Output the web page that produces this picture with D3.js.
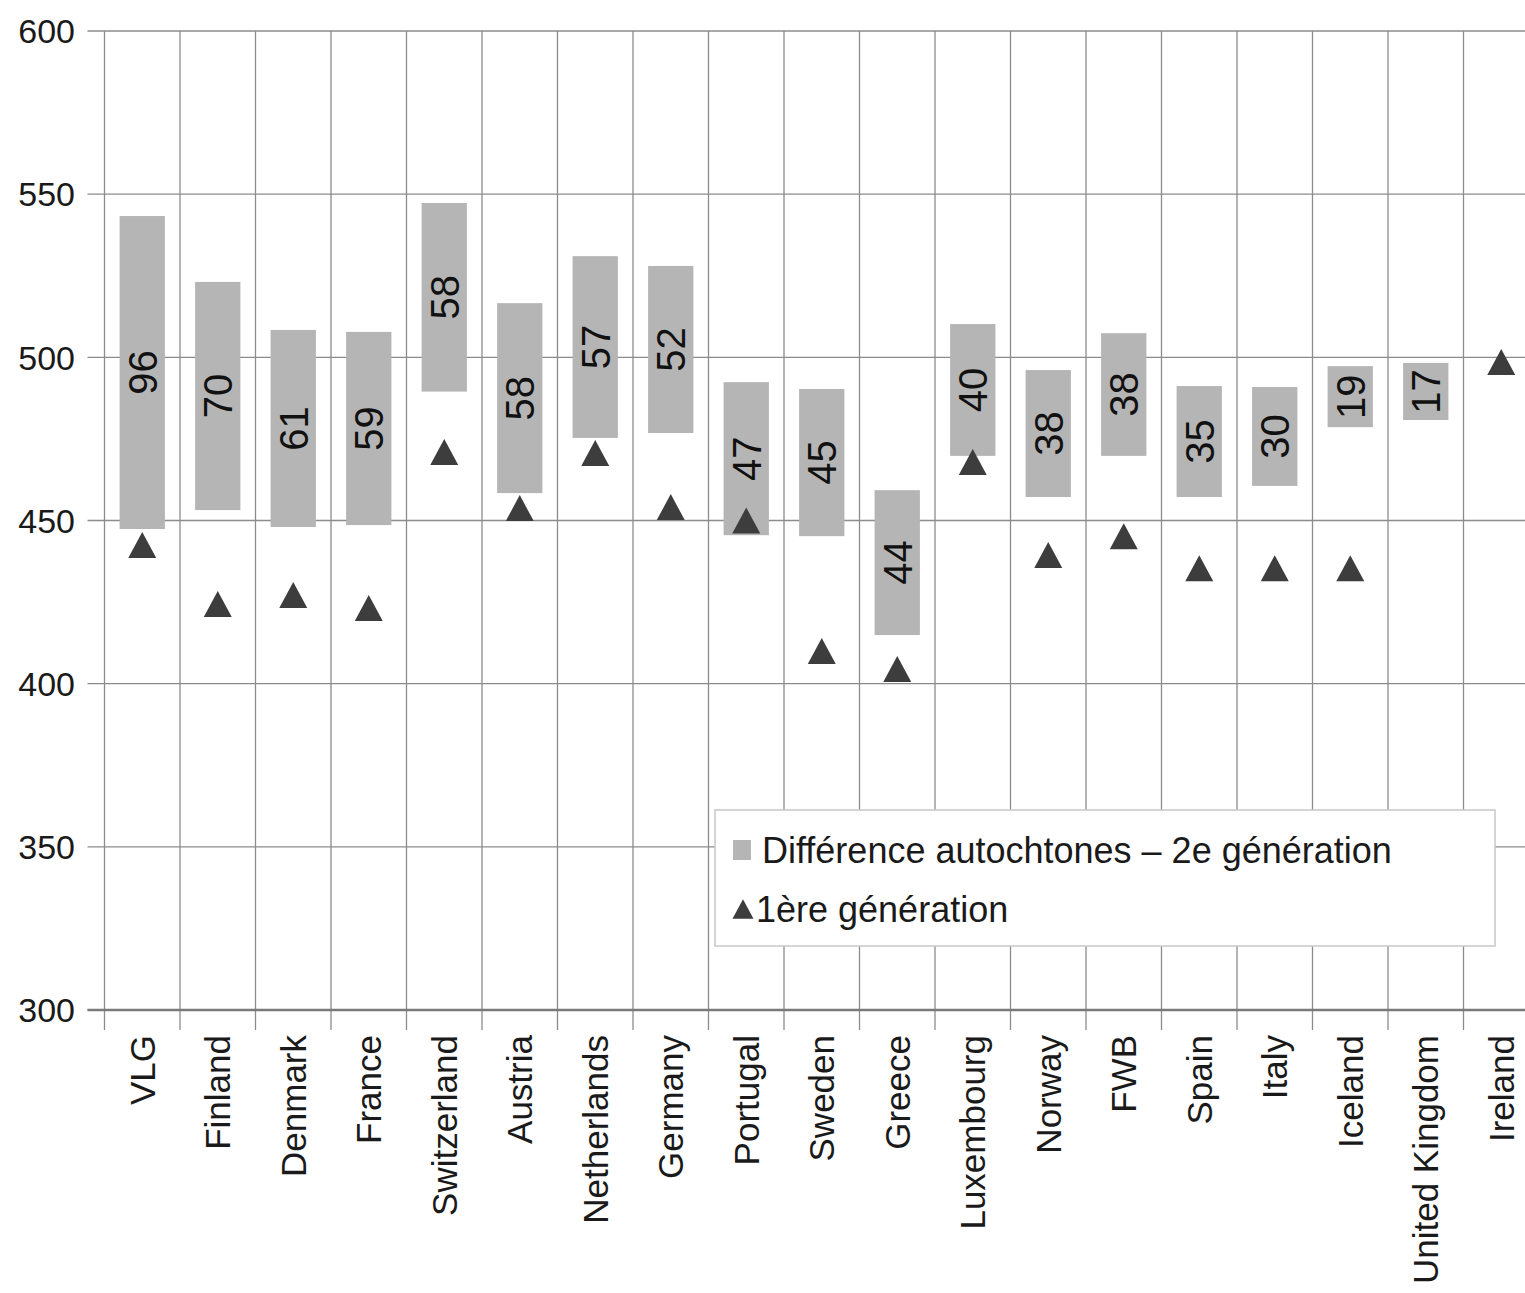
<!DOCTYPE html>
<html>
<head>
<meta charset="utf-8">
<script src="https://cdn.jsdelivr.net/npm/d3@7"></script>
<style>
  html, body { margin: 0; padding: 0; background: #fff; }
  svg { display: block; font-family: "Liberation Sans", Arial, sans-serif; }
</style>
</head>
<body>
<svg id="chart" width="1525" height="1293"></svg>
<script>
const categories = ["VLG","Finland","Denmark","France","Switzerland","Austria","Netherlands","Germany","Portugal","Sweden","Greece","Luxembourg","Norway","FWB","Spain","Italy","Iceland","United Kingdom","Ireland"];
// Top of range bar (autochtones)
const highValues = [543.3, 523.1, 508.4, 507.8, 547.3, 516.6, 531.0, 528.0, 492.4, 490.3, 459.3, 510.2, 496.1, 507.4, 491.2, 490.9, 497.3, 498.3, null];
// Bottom of range bar (2e génération)
const lowValues  = [447.4, 453.2, 448.0, 448.6, 489.5, 458.4, 475.3, 476.8, 445.5, 445.2, 414.9, 469.8, 457.2, 469.8, 457.2, 460.6, 478.6, 480.8, null];
// Difference labels
const diffLabels = [96, 70, 61, 59, 58, 58, 57, 52, 47, 45, 44, 40, 38, 38, 35, 30, 19, 17, null];
// 1ère génération
const firstGen   = [442.5, 424.4, 427.2, 423.2, 471.0, 453.8, 470.7, 454.1, 450.0, 410.0, 404.5, 467.9, 439.4, 445.2, 435.4, 435.4, 435.4, null, 498.6];
const yTicks = [300, 350, 400, 450, 500, 550, 600];
const legendLabels = ["Différence autochtones – 2e génération", "1ère génération"];

(function () {
const svg = d3.select("#chart");
const mLeft = 104.5, mTop = 31, mBottom = 1010;
const band = 75.5;
const mRight = mLeft + band * categories.length;

const x = d3.scaleBand().domain(categories).range([mLeft, mRight]).padding(0);
const y = d3.scaleLinear().domain([300, 600]).range([mBottom, mTop]);

const gridColor = "#8c8c8c";

// horizontal gridlines + y ticks
const gy = svg.append("g");
gy.selectAll("line").data(yTicks).join("line")
  .attr("x1", mLeft - 17).attr("x2", mRight)
  .attr("y1", d => y(d)).attr("y2", d => y(d))
  .attr("stroke", gridColor).attr("stroke-width", 1.3);
gy.selectAll("text").data(yTicks).join("text")
  .attr("x", 75).attr("y", d => y(d)).attr("dy", "0.36em")
  .attr("text-anchor", "end").attr("font-size", 34).attr("fill", "#1a1a1a")
  .text(d => d);

// vertical gridlines (band boundaries) + x ticks
const bounds = categories.map(c => x(c)).concat([mRight]);
svg.append("g").selectAll("line").data(bounds).join("line")
  .attr("x1", d => d).attr("x2", d => d)
  .attr("y1", mTop).attr("y2", mBottom + 20)
  .attr("stroke", gridColor).attr("stroke-width", 1.3);

// x axis baseline
svg.append("line").attr("x1", mLeft - 17).attr("x2", mRight)
  .attr("y1", y(300)).attr("y2", y(300))
  .attr("stroke", "#7a7a7a").attr("stroke-width", 2.5);

// x labels
svg.append("g").selectAll("text").data(categories).join("text")
  .attr("transform", d => `translate(${x(d) + x.bandwidth() / 2},1035) rotate(-90)`)
  .attr("dy", "0.36em").attr("text-anchor", "end")
  .attr("font-size", 35).attr("fill", "#1a1a1a")
  .text(d => d);

// range bars
const barW = x.bandwidth() * 0.6;
const barData = categories.map((c, i) => ({c, hi: highValues[i], lo: lowValues[i], lab: diffLabels[i]})).filter(d => d.hi != null);
svg.append("g").selectAll("rect").data(barData).join("rect")
  .attr("x", d => x(d.c) + (x.bandwidth() - barW) / 2)
  .attr("width", barW)
  .attr("y", d => y(d.hi))
  .attr("height", d => y(d.lo) - y(d.hi))
  .attr("fill", "#b5b5b5");

// value labels
svg.append("g").selectAll("text").data(barData).join("text")
  .attr("transform", d => `translate(${x(d.c) + x.bandwidth() / 2},${(y(d.hi) + y(d.lo)) / 2}) rotate(-90)`)
  .attr("dy", "0.36em").attr("text-anchor", "middle")
  .attr("font-size", 40).attr("fill", "#111")
  .text(d => d.lab);

// triangles
const tri = "M0,-13L14,13L-14,13Z";
const triData = categories.map((c, i) => ({c, v: firstGen[i]})).filter(d => d.v != null);
svg.append("g").selectAll("path").data(triData).join("path")
  .attr("transform", d => `translate(${x(d.c) + x.bandwidth() / 2},${y(d.v)})`)
  .attr("d", tri).attr("fill", "#3d3d3d");

// legend
const lg = svg.append("g");
lg.append("rect").attr("x", 715).attr("y", 810).attr("width", 780).attr("height", 136)
  .attr("fill", "#fff").attr("stroke", "#c8c8c8").attr("stroke-width", 1.5);
lg.append("rect").attr("x", 733).attr("y", 840).attr("width", 18).attr("height", 20).attr("fill", "#b5b5b5");
lg.append("text").attr("x", 762).attr("y", 850).attr("dy", "0.36em")
  .attr("font-size", 36).attr("fill", "#1a1a1a").text(legendLabels[0]);
lg.append("path").attr("transform", "translate(743,909) scale(0.75)").attr("d", tri).attr("fill", "#3d3d3d");
lg.append("text").attr("x", 756).attr("y", 909).attr("dy", "0.36em")
  .attr("font-size", 36).attr("fill", "#1a1a1a").text(legendLabels[1]);
})();
</script>
</body>
</html>
